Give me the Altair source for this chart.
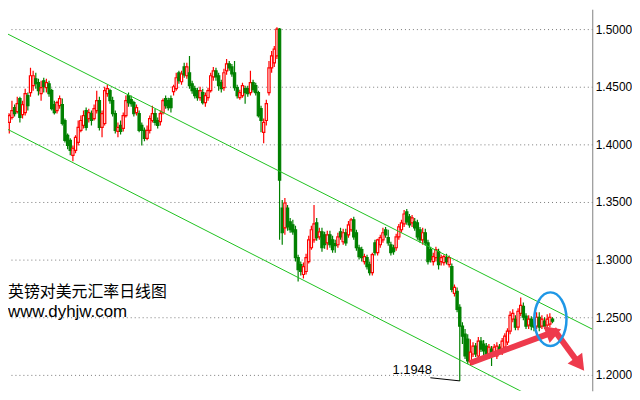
import altair as alt
import pandas as pd

# ---------------- data (GBP/USD daily candles) ----------------
opens = [
    1.4423, 1.4336, 1.4207, 1.4190, 1.4233, 1.4319, 1.4284, 1.4397, 1.4258, 1.4276,
    1.4423, 1.4449, 1.4509, 1.4569, 1.4535, 1.4440, 1.4552, 1.4492, 1.4526, 1.4466,
    1.4345, 1.4293, 1.4336, 1.4345, 1.4207, 1.4078, 1.4035, 1.3905, 1.3948, 1.4017,
    1.4121, 1.4164, 1.4293, 1.4224, 1.4267, 1.4224, 1.4293, 1.4379, 1.4147, 1.4181,
    1.4440, 1.4466, 1.4379, 1.4267, 1.4112, 1.4164, 1.4138, 1.4250, 1.4423, 1.4388,
    1.4362, 1.4276, 1.4267, 1.4164, 1.4121, 1.4052, 1.4121, 1.4207, 1.4267, 1.4207,
    1.4198, 1.4276, 1.4397, 1.4379, 1.4397, 1.4457, 1.4483, 1.4621, 1.4543, 1.4672,
    1.4595, 1.4621, 1.4526, 1.4483, 1.4466, 1.4405, 1.4449, 1.4362, 1.4405, 1.4466,
    1.4586, 1.4638, 1.4595, 1.4535, 1.4492, 1.4638, 1.4698, 1.4672, 1.4621, 1.4492,
    1.4405, 1.4423, 1.4483, 1.4483, 1.4449, 1.4535, 1.4509, 1.4449, 1.4310, 1.4104,
    1.4207, 1.4449, 1.4664, 1.4707, 1.4767, 1.5000, 1.3448, 1.3276, 1.3448, 1.3328,
    1.3302, 1.3259, 1.3017, 1.2957, 1.2871, 1.2897, 1.2983, 1.3103, 1.3172, 1.3319,
    1.3198, 1.3241, 1.3215, 1.3146, 1.3215, 1.3172, 1.3138, 1.3129, 1.3241, 1.3155,
    1.3233, 1.3215, 1.3259, 1.3345, 1.3233, 1.3103, 1.3086, 1.2983, 1.3017, 1.2957,
    1.2888, 1.3146, 1.3060, 1.3129, 1.3172, 1.3259, 1.3190, 1.3129, 1.3103, 1.3103,
    1.3198, 1.3259, 1.3310, 1.3414, 1.3371, 1.3319, 1.3328, 1.3319, 1.3259, 1.3172,
    1.3233, 1.3146, 1.3086, 1.2983, 1.3017, 1.3069, 1.2983, 1.2974, 1.3017, 1.2957,
    1.2940, 1.2707, 1.2724, 1.2586, 1.2423, 1.2353, 1.2310, 1.2112, 1.2181, 1.2250,
    1.2164, 1.2293, 1.2267, 1.2250, 1.2164, 1.2224, 1.2181, 1.2164, 1.2241, 1.2198,
    1.2241, 1.2284, 1.2379, 1.2483, 1.2483, 1.2414, 1.2534, 1.2595, 1.2509, 1.2431,
    1.2483, 1.2466, 1.2423, 1.2500, 1.2423, 1.2466, 1.2431, 1.2440, 1.2483,
]
highs = [
    1.4449, 1.4353, 1.4293, 1.4267, 1.4379, 1.4345, 1.4414, 1.4414, 1.4379, 1.4483,
    1.4449, 1.4664, 1.4638, 1.4621, 1.4569, 1.4552, 1.4578, 1.4569, 1.4552, 1.4483,
    1.4379, 1.4379, 1.4423, 1.4397, 1.4224, 1.4095, 1.4052, 1.3991, 1.4078, 1.4207,
    1.4250, 1.4293, 1.4319, 1.4310, 1.4293, 1.4345, 1.4466, 1.4414, 1.4293, 1.4500,
    1.4517, 1.4483, 1.4414, 1.4293, 1.4190, 1.4207, 1.4276, 1.4423, 1.4449, 1.4423,
    1.4379, 1.4345, 1.4293, 1.4190, 1.4147, 1.4164, 1.4250, 1.4336, 1.4310, 1.4233,
    1.4293, 1.4397, 1.4423, 1.4405, 1.4423, 1.4517, 1.4621, 1.4638, 1.4638, 1.4707,
    1.4707, 1.4767, 1.4552, 1.4509, 1.4492, 1.4500, 1.4483, 1.4449, 1.4492, 1.4621,
    1.4672, 1.4664, 1.4621, 1.4560, 1.4655, 1.4741, 1.4724, 1.4698, 1.4724, 1.4517,
    1.4474, 1.4535, 1.4509, 1.4509, 1.4638, 1.4560, 1.4535, 1.4466, 1.4336, 1.4224,
    1.4388, 1.4724, 1.4810, 1.4853, 1.5017, 1.5009, 1.3517, 1.3534, 1.3474, 1.3362,
    1.3345, 1.3293, 1.3043, 1.2983, 1.2974, 1.3052, 1.3207, 1.3293, 1.3474, 1.3362,
    1.3276, 1.3276, 1.3241, 1.3250, 1.3250, 1.3207, 1.3172, 1.3233, 1.3276, 1.3267,
    1.3267, 1.3336, 1.3362, 1.3371, 1.3259, 1.3129, 1.3112, 1.3052, 1.3043, 1.2983,
    1.3060, 1.3172, 1.3181, 1.3215, 1.3276, 1.3284, 1.3259, 1.3155, 1.3129, 1.3224,
    1.3310, 1.3345, 1.3431, 1.3440, 1.3396, 1.3388, 1.3362, 1.3345, 1.3284, 1.3276,
    1.3267, 1.3172, 1.3112, 1.3060, 1.3112, 1.3095, 1.3043, 1.3043, 1.3052, 1.3035,
    1.2966, 1.2785, 1.2759, 1.2612, 1.2457, 1.2397, 1.2353, 1.2310, 1.2284, 1.2276,
    1.2328, 1.2328, 1.2302, 1.2276, 1.2267, 1.2250, 1.2267, 1.2284, 1.2267, 1.2319,
    1.2362, 1.2405, 1.2552, 1.2569, 1.2517, 1.2578, 1.2672, 1.2629, 1.2534, 1.2517,
    1.2509, 1.2500, 1.2543, 1.2543, 1.2517, 1.2500, 1.2526, 1.2534, 1.2500,
]
lows = [
    1.4293, 1.4138, 1.4190, 1.4095, 1.4215, 1.4241, 1.4267, 1.4190, 1.4224, 1.4250,
    1.4293, 1.4414, 1.4466, 1.4483, 1.4423, 1.4379, 1.4449, 1.4449, 1.4414, 1.4293,
    1.4258, 1.4267, 1.4310, 1.4164, 1.4017, 1.3957, 1.3905, 1.3853, 1.3922, 1.3991,
    1.4104, 1.4138, 1.4121, 1.4190, 1.4164, 1.4207, 1.4267, 1.4121, 1.4061, 1.4164,
    1.4414, 1.4353, 1.4241, 1.4095, 1.4061, 1.4086, 1.4112, 1.4233, 1.4327, 1.4327,
    1.4241, 1.4250, 1.4104, 1.3991, 1.4026, 1.4035, 1.4095, 1.4190, 1.4164, 1.4138,
    1.4164, 1.4258, 1.4310, 1.4293, 1.4276, 1.4423, 1.4466, 1.4526, 1.4517, 1.4578,
    1.4569, 1.4483, 1.4440, 1.4397, 1.4379, 1.4379, 1.4345, 1.4327, 1.4379, 1.4449,
    1.4552, 1.4552, 1.4466, 1.4449, 1.4466, 1.4603, 1.4638, 1.4586, 1.4466, 1.4397,
    1.4388, 1.4405, 1.4353, 1.4414, 1.4423, 1.4449, 1.4423, 1.4233, 1.4104, 1.4009,
    1.4164, 1.4423, 1.4621, 1.4672, 1.4741, 1.3172, 1.3129, 1.3215, 1.3250, 1.3233,
    1.3215, 1.2983, 1.2810, 1.2862, 1.2836, 1.2871, 1.2966, 1.3086, 1.3146, 1.3164,
    1.3172, 1.3069, 1.3095, 1.3086, 1.3103, 1.3060, 1.3060, 1.3103, 1.3172, 1.3129,
    1.3121, 1.3190, 1.3241, 1.3172, 1.3078, 1.3000, 1.2983, 1.2957, 1.2914, 1.2862,
    1.2862, 1.3035, 1.3035, 1.3103, 1.3146, 1.3190, 1.3121, 1.3035, 1.3043, 1.3078,
    1.3172, 1.3233, 1.3284, 1.3302, 1.3276, 1.3284, 1.3250, 1.3172, 1.3146, 1.3129,
    1.3121, 1.2957, 1.2974, 1.2948, 1.2983, 1.2914, 1.2948, 1.2948, 1.2957, 1.2931,
    1.2716, 1.2681, 1.2543, 1.1948, 1.2267, 1.2138, 1.2095, 1.2086, 1.2155, 1.2155,
    1.2138, 1.2198, 1.2172, 1.2138, 1.2138, 1.2078, 1.2155, 1.2138, 1.2172, 1.2172,
    1.2215, 1.2259, 1.2353, 1.2457, 1.2388, 1.2388, 1.2509, 1.2474, 1.2397, 1.2397,
    1.2388, 1.2379, 1.2397, 1.2379, 1.2397, 1.2397, 1.2397, 1.2414, 1.2448,
]
closes = [
    1.4319, 1.4250, 1.4267, 1.4250, 1.4293, 1.4267, 1.4353, 1.4233, 1.4345, 1.4440,
    1.4336, 1.4595, 1.4595, 1.4526, 1.4466, 1.4492, 1.4500, 1.4535, 1.4440, 1.4310,
    1.4276, 1.4362, 1.4397, 1.4181, 1.4035, 1.3991, 1.3948, 1.3966, 1.4061, 1.4147,
    1.4207, 1.4250, 1.4147, 1.4276, 1.4207, 1.4310, 1.4379, 1.4147, 1.4267, 1.4466,
    1.4483, 1.4379, 1.4267, 1.4121, 1.4147, 1.4112, 1.4250, 1.4379, 1.4362, 1.4353,
    1.4267, 1.4319, 1.4121, 1.4121, 1.4052, 1.4121, 1.4224, 1.4267, 1.4190, 1.4164,
    1.4267, 1.4379, 1.4336, 1.4319, 1.4319, 1.4500, 1.4578, 1.4552, 1.4612, 1.4603,
    1.4672, 1.4509, 1.4466, 1.4423, 1.4405, 1.4466, 1.4362, 1.4423, 1.4466, 1.4595,
    1.4638, 1.4586, 1.4509, 1.4483, 1.4621, 1.4698, 1.4664, 1.4612, 1.4492, 1.4423,
    1.4449, 1.4509, 1.4449, 1.4440, 1.4535, 1.4474, 1.4449, 1.4250, 1.4207, 1.4190,
    1.4353, 1.4664, 1.4767, 1.4827, 1.5000, 1.3690, 1.3233, 1.3491, 1.3284, 1.3259,
    1.3241, 1.3017, 1.2914, 1.2897, 1.2940, 1.3017, 1.3172, 1.3259, 1.3310, 1.3190,
    1.3241, 1.3103, 1.3129, 1.3215, 1.3129, 1.3086, 1.3121, 1.3198, 1.3198, 1.3233,
    1.3146, 1.3302, 1.3345, 1.3198, 1.3103, 1.3026, 1.3017, 1.3026, 1.2940, 1.2888,
    1.3043, 1.3060, 1.3172, 1.3190, 1.3233, 1.3215, 1.3146, 1.3060, 1.3069, 1.3198,
    1.3284, 1.3319, 1.3396, 1.3328, 1.3302, 1.3362, 1.3276, 1.3198, 1.3172, 1.3233,
    1.3146, 1.2983, 1.3000, 1.3026, 1.3086, 1.2957, 1.3017, 1.3026, 1.2983, 1.3017,
    1.2741, 1.2759, 1.2569, 1.2423, 1.2336, 1.2164, 1.2121, 1.2198, 1.2250, 1.2181,
    1.2293, 1.2224, 1.2207, 1.2164, 1.2241, 1.2181, 1.2241, 1.2250, 1.2198, 1.2293,
    1.2336, 1.2379, 1.2517, 1.2534, 1.2414, 1.2552, 1.2603, 1.2500, 1.2423, 1.2483,
    1.2423, 1.2414, 1.2500, 1.2414, 1.2483, 1.2423, 1.2483, 1.2500, 1.2466,
]

# trend channel (bar index, price)
upper_x = [-0.5, 223.0]
upper_p = [1.4991, 1.2397]
lower_x = [-0.5, 223.0]
lower_p = [1.4164, 1.1543]

# 1.1948 low annotation
low_line_x = [161.9, 173.0]
low_line_p = [1.1975, 1.1948]
low_label = "1.1948"
low_label_x = [147.6]
low_label_p = [1.2009]

# red arrows (tail -> head centre)
arrow1_x = [176.9, 208.5]
arrow1_p = [1.2103, 1.2373]
arrow2_x = [208.4, 218.2]
arrow2_p = [1.2397, 1.2090]

# blue ellipse centre
ellipse_x = [207.2]
ellipse_p = [1.2483]

price_ticks = [1.20, 1.25, 1.30, 1.35, 1.40, 1.45, 1.50]
title_cn = "英镑对美元汇率日线图"
site = "www.dyhjw.com"

# ---------------- styling ----------------
BULL = "#FF0000"
BEAR = "#008000"
CHANNEL = "#1EC21E"
ARROW = "#EE3A4C"
BLUE = "#1F97E6"

xs = alt.Scale(domain=[2.51, 223.0], nice=False, zero=False)
ys = alt.Scale(domain=[1.18621, 1.51724], nice=False, zero=False)

yaxis = alt.Axis(
    orient="right", values=price_ticks, format=".4f", title=None,
    grid=True, gridDash=[1, 3], gridColor="#7a7a7a", gridWidth=1,
    domain=True, domainColor="#808080", domainWidth=1,
    ticks=False, tickSize=0, labelPadding=3, labelFontSize=12,
    labelFont="Liberation Sans", labelColor="#000000", labelFlush=False,
)


def X(field):
    return alt.X(field, scale=xs, axis=None)


def Y(field):
    return alt.Y(field, scale=ys, axis=yaxis)


df = pd.DataFrame({
    "i": list(range(len(opens))),
    "open": opens, "high": highs, "low": lows, "close": closes,
})

bull_cond = "datum.close >= datum.open"

wicks = alt.Chart(df).mark_rule(strokeWidth=1.2, clip=True).encode(
    x=X("i:Q"),
    y=Y("low:Q"),
    y2="high:Q",
    color=alt.condition(bull_cond, alt.value(BULL), alt.value(BEAR)),
)

bodies = alt.Chart(df).transform_calculate(
    x0="datum.i - 0.42", x1="datum.i + 0.42",
    top="max(datum.open, datum.close)", bot="min(datum.open, datum.close)",
).mark_rect(strokeWidth=1.2, clip=True).encode(
    x=X("x0:Q"),
    x2="x1:Q",
    y=Y("bot:Q"),
    y2="top:Q",
    fill=alt.condition(bull_cond, alt.value("#FFFFFF"), alt.value(BEAR)),
    stroke=alt.condition(bull_cond, alt.value(BULL), alt.value(BEAR)),
)


def line_layer(xv, pv, color, width):
    d = pd.DataFrame({"x": xv, "p": pv, "o": list(range(len(xv)))})
    return alt.Chart(d).mark_line(color=color, strokeWidth=width, clip=True, strokeCap="butt").encode(
        x=X("x:Q"), y=Y("p:Q"), order="o:Q",
    )


upper = line_layer(upper_x, upper_p, CHANNEL, 1)
lower = line_layer(lower_x, lower_p, CHANNEL, 1)
low_line = line_layer(low_line_x, low_line_p, "#000000", 1)

low_text = alt.Chart(pd.DataFrame({"x": low_label_x, "p": low_label_p, "t": [low_label]})).mark_text(
    align="left", baseline="alphabetic", font="Liberation Sans", fontSize=13, color="#000000"
).encode(x=X("x:Q"), y=Y("p:Q"), text="t:N")

shaft1 = line_layer(arrow1_x, arrow1_p, ARROW, 6)
shaft2 = line_layer(arrow2_x, arrow2_p, ARROW, 6)


def head(xv, pv, ang):
    d = pd.DataFrame({"x": [xv], "p": [pv]})
    return alt.Chart(d).mark_point(
        shape="triangle-up", filled=True, size=330, angle=ang, color=ARROW, opacity=1
    ).encode(x=X("x:Q"), y=Y("p:Q"))


head1 = head(arrow1_x[-1], arrow1_p[-1], 69.7)
head2 = head(arrow2_x[-1], arrow2_p[-1], 143.6)

k = 0.5523
a = 0.6
ellipse_path = (
    f"M0,-1 C{a*k:.4f},-1 {a},{-k} {a},0 C{a},{k} {a*k:.4f},1 0,1 "
    f"C{-a*k:.4f},1 {-a},{k} {-a},0 C{-a},{-k} {-a*k:.4f},-1 0,-1 Z"
)
ellipse = alt.Chart(pd.DataFrame({"x": ellipse_x, "p": ellipse_p})).mark_point(
    shape=ellipse_path, filled=False, size=2916, strokeWidth=2.5, color=BLUE, opacity=1
).encode(x=X("x:Q"), y=Y("p:Q"))

title_layer = alt.Chart(pd.DataFrame({"t": [title_cn]})).mark_text(
    align="left", baseline="alphabetic", font="Noto Sans CJK SC", fontSize=16, color="#000000"
).encode(x=alt.value(0), y=alt.value(290), text="t:N")

site_layer = alt.Chart(pd.DataFrame({"t": [site]})).mark_text(
    align="left", baseline="alphabetic", font="Liberation Sans", fontSize=17, color="#000000"
).encode(x=alt.value(0), y=alt.value(310), text="t:N")

chart = alt.layer(
    wicks, bodies, upper, lower, low_line, low_text,
    shaft1, shaft2, head1, head2, ellipse, title_layer, site_layer,
).properties(
    width=588, height=384,
    padding={"left": 0, "top": 0, "right": 0, "bottom": 0},
    background="#FFFFFF",
).configure_view(stroke=None)

chart.save("out.html", embed_options={"renderer": "svg", "actions": False})
